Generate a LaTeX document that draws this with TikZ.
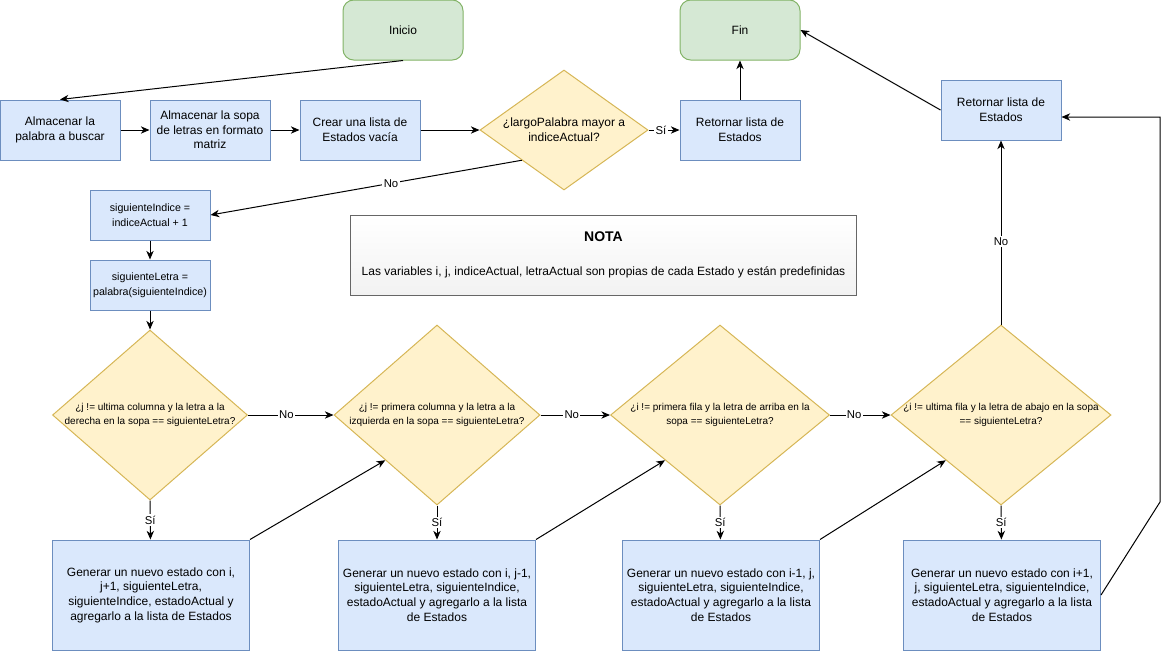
\documentclass[tikz,border=0pt]{standalone}
\usepackage{fontspec}
\setmainfont{Liberation Sans}
\usetikzlibrary{shapes,arrows.meta,positioning}
\definecolor{azulF}{HTML}{DAE8FC}
\definecolor{azulB}{HTML}{6C8EBF}
\definecolor{verdeF}{HTML}{D5E8D4}
\definecolor{verdeB}{HTML}{82B366}
\definecolor{amarF}{HTML}{FFF2CC}
\definecolor{amarB}{HTML}{D6B656}
\definecolor{grisF}{HTML}{F2F2F2}
\definecolor{grisB}{HTML}{666666}

\tikzset{
  extremo/.style={draw=verdeB, fill=verdeF, rounded corners=8pt, line width=0.75pt,
    minimum width=90pt, minimum height=45pt, font=\fontsize{9}{10.5}\selectfont},
  caja/.style={draw=azulB, fill=azulF, line width=0.75pt, align=center, inner sep=1pt,
    minimum width=90pt, minimum height=45pt, font=\fontsize{9}{11}\selectfont},
  cajita/.style={caja, minimum height=37.5pt, font=\fontsize{8}{11}\selectfont},
  generar/.style={caja, minimum width=147.75pt, minimum height=82.5pt},
  decision/.style={diamond, draw=amarB, fill=amarF, line width=0.75pt, inner sep=0pt},
  preg/.style={align=center, font=\fontsize{7.5}{11}\selectfont},
  pregG/.style={align=center, font=\fontsize{9}{11}\selectfont},
  flecha/.style={-{Stealth[length=6.5pt,width=5.5pt,inset=2pt]}, line width=0.75pt},
  etiq/.style={fill=white, inner sep=1pt, font=\fontsize{8.5}{10}\selectfont},
}

\begin{document}
\begin{tikzpicture}[x=0.75pt,y=-0.75pt]
\useasboundingbox (0,0) rectangle (1169,651);

% inicio, fin y primera fila
\node[extremo] (inicio) at (403,30) {Inicio};
\node[extremo] (fin) at (740,30) {Fin};
\node[caja] (palabra) at (60,130) {Almacenar la\\palabra a buscar};
\node[caja] (sopa) at (210,130) {Almacenar la sopa\\de letras en formato\\matriz};
\node[caja] (lista) at (360,130) {Crear una lista de\\Estados vacía};
\node[decision, minimum width=126pt, minimum height=90pt,
  label={[pregG]center:{¿largoPalabra mayor a\\indiceActual?}}] (largo) at (564,130) {};
\node[caja] (ret1) at (740,130) {Retornar lista de\\Estados};
\node[caja] (ret2) at (1001,110) {Retornar lista de\\Estados};

% siguiente indice y letra
\node[cajita] (sigind) at (150,215) {siguienteIndice =\\indiceActual + 1};
\node[cajita] (siglet) at (150,285) {siguienteLetra =\\palabra(siguienteIndice)};

% nota
\node[draw=grisB, top color=white, bottom color=grisF, line width=0.75pt,
  minimum width=380pt, minimum height=60pt] (nota) at (603.5,255) {};
\node[font=\bfseries\fontsize{10.5}{12}\selectfont] (notatit) at (603.5,237) {NOTA};
\node[font=\fontsize{9}{11}\selectfont] (notatxt) at (603.5,272)
  {Las variables i, j, indiceActual, letraActual son propias de cada Estado y están predefinidas};

% decisiones
\node[decision, minimum width=146.25pt, minimum height=127.5pt,
  label={[preg]center:{¿j != ultima columna y la letra a la\\derecha en la sopa == siguienteLetra?}}] (d1) at (150,415) {};
\node[decision, minimum width=154.5pt, minimum height=135pt,
  label={[preg]center:{¿j != primera columna y la letra a la\\izquierda en la sopa == siguienteLetra?}}] (d2) at (437,415) {};
\node[decision, minimum width=164.25pt, minimum height=135pt,
  label={[preg]center:{¿i != primera fila y la letra de arriba en la\\sopa == siguienteLetra?}}] (d3) at (720,415) {};
\node[decision, minimum width=165pt, minimum height=135pt,
  label={[preg]center:{¿i != ultima fila y la letra de abajo en la sopa\\== siguienteLetra?}}] (d4) at (1001,415) {};

% nuevos estados
\node[generar] (g1) at (151,595) {Generar un nuevo estado con i,\\j+1, siguienteLetra,\\siguienteIndice, estadoActual y\\agregarlo a la lista de Estados};
\node[generar] (g2) at (437,595) {Generar un nuevo estado con i, j-1,\\siguienteLetra, siguienteIndice,\\estadoActual y agregarlo a la lista\\de Estados};
\node[generar] (g3) at (721,595) {Generar un nuevo estado con i-1, j,\\siguienteLetra, siguienteIndice,\\estadoActual y agregarlo a la lista\\de Estados};
\node[generar] (g4) at (1002,595) {Generar un nuevo estado con i+1,\\j, siguienteLetra, siguienteIndice,\\estadoActual y agregarlo a la lista\\de Estados};

\coordinate (c1) at (1160,502);
\coordinate (c2) at (1160,117);

% conexiones
\draw[flecha] (inicio.south) -- (palabra.north);
\draw[flecha] (palabra) -- (sopa);
\draw[flecha] (sopa) -- (lista);
\draw[flecha] (lista) -- (largo.west);
\draw[flecha] (largo.east) -- node[etiq, pos=0.4] {Sí} (ret1);
\draw[flecha] (ret1) -- (fin);
\draw[flecha] (largo.south west) -- node[etiq, pos=0.42] {No} (sigind.east);
\draw[flecha] (sigind) -- (siglet);
\draw[flecha] (siglet) -- (d1.north);
\draw[flecha] (d1.east) -- node[etiq, pos=0.45] {No} (d2.west);
\draw[flecha] (d2.east) -- node[etiq, pos=0.45] {No} (d3.west);
\draw[flecha] (d3.east) -- node[etiq, pos=0.4] {No} (d4.west);
\draw[flecha] (d1.south) -- node[etiq] {Sí} (g1);
\draw[flecha] (d2.south) -- node[etiq] {Sí} (g2);
\draw[flecha] (d3.south) -- node[etiq] {Sí} (g3);
\draw[flecha] (d4.south) -- node[etiq] {Sí} (g4);
\draw[flecha] (g1.north east) -- (d2.south west);
\draw[flecha] (g2.north east) -- (d3.south west);
\draw[flecha] (g3.north east) -- (d4.south west);
\draw[flecha] (d4.north) -- node[etiq, pos=0.45] {No} (ret2);
\draw[flecha] (ret2.west) -- (fin.east);
\draw[flecha] (g4.east) -- (c1) -- (c2) -- (c2 -| ret2.east);
\end{tikzpicture}
\end{document}
